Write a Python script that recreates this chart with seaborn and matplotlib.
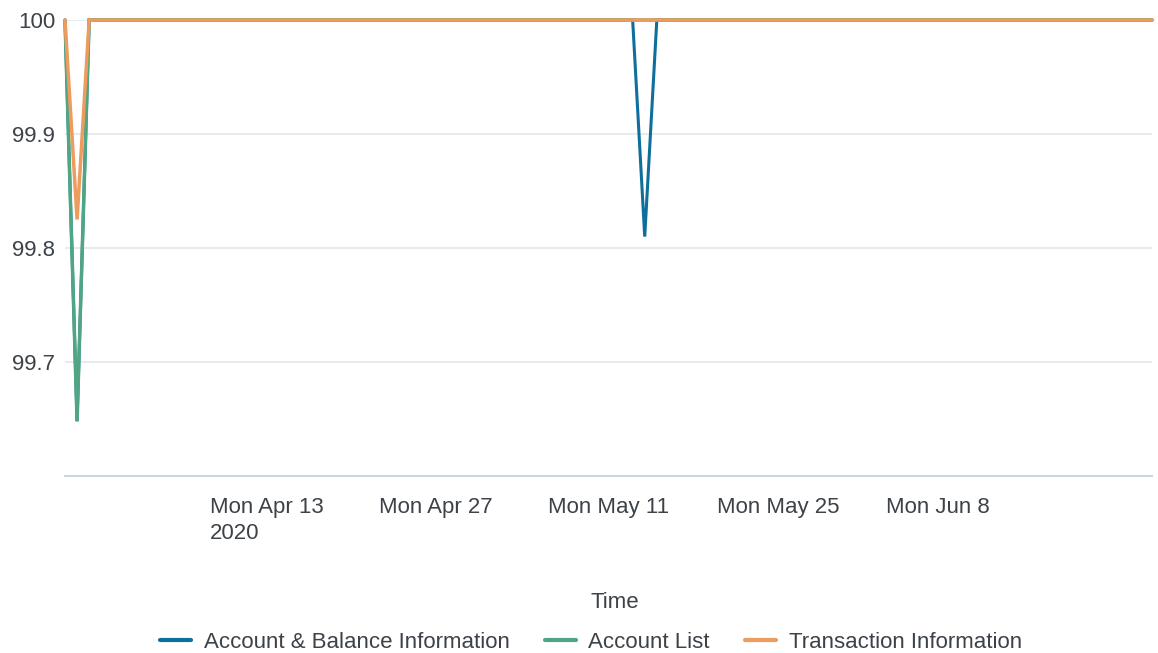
import pandas as pd
import numpy as np
import matplotlib.pyplot as plt
import matplotlib.dates as mdates
import seaborn as sns

# daily series, Apr 1 - Jun 30 2020
dates = pd.date_range("2020-04-01", "2020-06-30", freq="D")
series_names = ["Account & Balance Information", "Account List", "Transaction Information"]
colors = ["#0e6f9c", "#4fa584", "#ee9b5e"]

# dips (date -> value), everything else at 100
dips = {
    "Account & Balance Information": {"2020-04-02": 99.648, "2020-05-19": 99.81},
    "Account List": {"2020-04-02": 99.648},
    "Transaction Information": {"2020-04-02": 99.825},
}

rows = []
for name in series_names:
    for d in dates:
        v = dips[name].get(d.strftime("%Y-%m-%d"), 100.0)
        rows.append({"Time": d, "value": v, "series": name})
df = pd.DataFrame(rows)

tick_dates = pd.to_datetime(["2020-04-13", "2020-04-27", "2020-05-11", "2020-05-25", "2020-06-08", "2020-06-22"])
tick_labels = ["Mon Apr 13\n2020", "Mon Apr 27", "Mon May 11", "Mon May 25", "Mon Jun 8", ""]
y_ticks = [99.7, 99.8, 99.9, 100]
y_labels = ["99.7", "99.8", "99.9", "100"]

sns.set_theme(style="white")
plt.rcParams['font.family'] = ['Liberation Sans', 'DejaVu Sans']
text_col = "#3c4248"
axis_col = "#ccd4dc"
fs = 16

fig = plt.figure(figsize=(11.58, 6.53), dpi=100)
ax = fig.add_axes([65 / 1158, 1 - 476 / 653, (1152 - 65) / 1158, 456 / 653])

sns.lineplot(data=df, x="Time", y="value", hue="series", hue_order=series_names,
             palette=colors, linewidth=2.5, ax=ax, legend=False)
for ln in ax.lines:
    ln.set_clip_on(False)
    ln.set_solid_joinstyle("miter")
# blue sits fully under green at the shared April dip
ax.lines[0].set_linewidth(2.2)

ax.set_xlim(dates[0], dates[-1])
ax.set_ylim(99.6, 100)

for y in y_ticks:
    ax.axhline(y, color="#e3e7eb", linewidth=1.2, zorder=0)

ax.set_yticks(y_ticks)
ax.set_yticklabels(y_labels, fontsize=fs, color=text_col)
ax.tick_params(axis="y", length=0, pad=7)

ax.set_xticks(tick_dates)
ax.set_xticklabels(tick_labels, fontsize=fs, color=text_col, ha="left", linespacing=1.3)
ax.tick_params(axis="x", length=10, width=1.2, color=axis_col, pad=5, direction="out")

for s in ["top", "right", "left"]:
    ax.spines[s].set_visible(False)
ax.spines["bottom"].set_color(axis_col)
ax.spines["bottom"].set_linewidth(1.5)

ax.set_xlabel("Time", fontsize=fs, color=text_col)
ax.xaxis.set_label_coords((615 - 65) / (1152 - 65), -(592 - 476) / 456)
ax.set_ylabel("")

handles = [plt.Line2D([], [], color=c, linewidth=3) for c in colors]
fig.legend(handles, series_names, loc="center", bbox_to_anchor=(591 / 1158, 1 - 642 / 653),
           ncol=3, frameon=False, fontsize=fs, labelcolor=text_col,
           handlelength=1.4, handletextpad=0.55, columnspacing=1.6)

plt.savefig("out.png", dpi=100)
